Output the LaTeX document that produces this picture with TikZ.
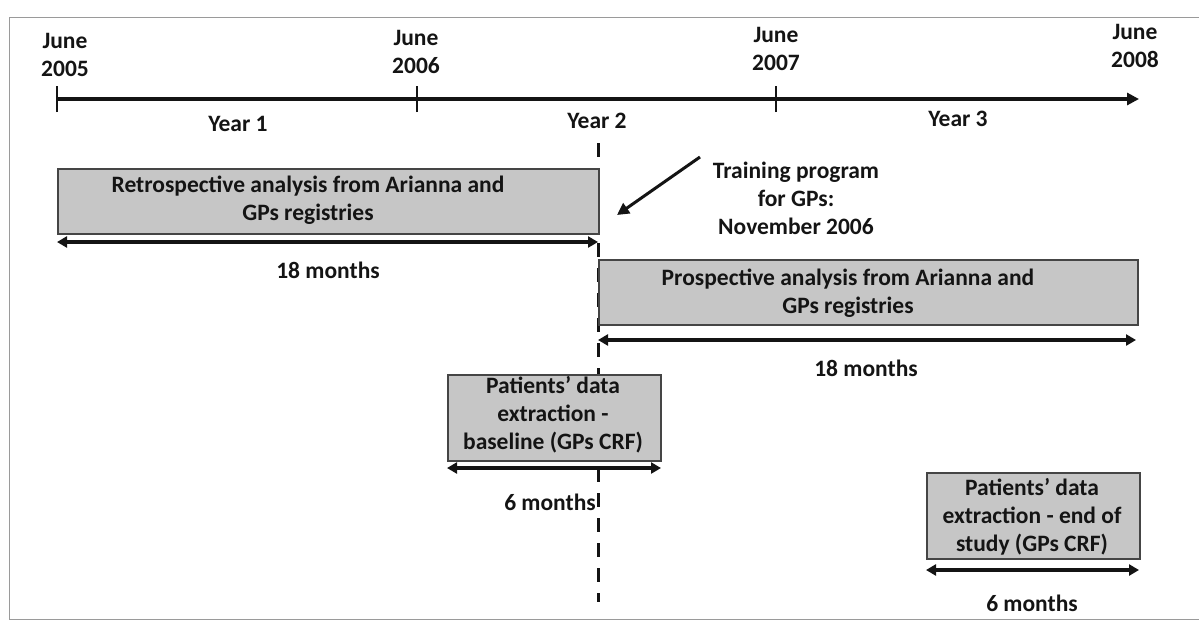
\documentclass[tikz,border=0pt]{standalone}
\usepackage{fontspec}
\setmainfont{Carlito}
\usetikzlibrary{arrows.meta}
\definecolor{ink}{HTML}{141414}
\definecolor{boxfill}{HTML}{C6C6C6}
\definecolor{boxline}{HTML}{454545}
\definecolor{framec}{HTML}{9A9A9A}
\begin{document}
\begin{tikzpicture}[x=1pt,y=-1pt,
  lbl/.style={font=\bfseries\fontsize{23.5}{28}\selectfont, text=ink, align=center, inner sep=0pt},
  box/.style={draw=boxline, fill=boxfill, line width=1.6pt, inner sep=0pt, anchor=north west},
  dur/.style={draw=ink, line width=3.2pt, {Triangle[length=10pt,width=11pt]}-{Triangle[length=10pt,width=11pt]}},
  tick/.style={draw=ink, line width=2.2pt},
  axis/.style={draw=ink, line width=3.6pt, -{Triangle[length=12pt,width=12pt]}},
  guide/.style={draw=ink, line width=3pt, dash pattern=on 14pt off 11pt},
  pointer/.style={draw=ink, line width=3pt, -{Triangle[length=12pt,width=12pt]}}]
\useasboundingbox (0,0) rectangle (1199,621);
% frame
\draw[framec, line width=0.8pt] (1199,17) -- (9,17) -- (9,619) -- (1199,619);
% timeline
\coordinate (t0) at (57,99);
\coordinate (t1) at (417,99);
\coordinate (t2) at (776,99);
\coordinate (tend) at (1139,99);
\draw[axis] (t0) -- (tend);
\draw[tick] ([yshift=-13pt]t0) -- ([yshift=13pt]t0);
\draw[tick] ([yshift=-13pt]t1) -- ([yshift=13pt]t1);
\draw[tick] ([yshift=-13pt]t2) -- ([yshift=13pt]t2);
\node[lbl] (d05) at (65,55) {June\\2005};
\node[lbl] (d06) at (416,52) {June\\2006};
\node[lbl] (d07) at (776,49) {June\\2007};
\node[lbl] (d08) at (1135,46) {June\\2008};
\node[lbl] (y1) at (238,124) {Year 1};
\node[lbl] (y2) at (597,121) {Year 2};
\node[lbl] (y3) at (958,119) {Year 3};
% dashed guide
\coordinate (gtop) at (598,143);
\coordinate (gbot) at (598,602);
\draw[guide] (gtop) -- (gbot);
% retrospective
\node[box, minimum width=541pt, minimum height=65pt] (retro) at (57,168) {};
\node[lbl] (retrot) at (308,200) {Retrospective analysis from Arianna and\\GPs registries};
\coordinate (r1) at (57,242);
\coordinate (r2) at (598,242);
\draw[dur] (r1) -- (r2);
\node[lbl] (r18) at (328,270) {18 months};
% training
\coordinate (tp1) at (700,157);
\coordinate (tp2) at (617,215);
\draw[pointer] (tp1) -- (tp2);
\node[lbl] (train) at (796,198) {Training program\\for GPs:\\November 2006};
% prospective
\node[box, minimum width=539pt, minimum height=65pt] (pros) at (598,259) {};
\node[lbl] (prost) at (848,293) {Prospective analysis from Arianna and\\GPs registries};
\coordinate (p1) at (598,340);
\coordinate (p2) at (1136,340);
\draw[dur] (p1) -- (p2);
\node[lbl] (p18) at (866,368) {18 months};
% baseline extraction
\node[box, minimum width=213pt, minimum height=86pt] (base) at (447,374) {};
\node[lbl] (baset) at (553,415) {Patients’ data\\extraction -\\baseline (GPs CRF)};
\coordinate (b1) at (447,468);
\coordinate (b2) at (661,468);
\draw[dur] (b1) -- (b2);
\node[lbl] (b6) at (550,502) {6 months};
% end extraction
\node[box, minimum width=213pt, minimum height=86pt] (endx) at (926,472) {};
\node[lbl] (endt) at (1032,517) {Patients’ data\\extraction - end of\\study (GPs CRF)};
\coordinate (e1) at (926,570);
\coordinate (e2) at (1139,570);
\draw[dur] (e1) -- (e2);
\node[lbl] (e6) at (1032,603) {6 months};
\end{tikzpicture}
\end{document}
